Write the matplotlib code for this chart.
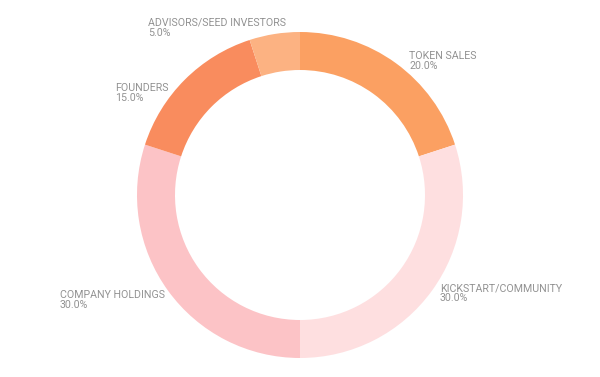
import matplotlib.pyplot as plt
import numpy as np

labels = ['TOKEN SALES', 'KICKSTART/COMMUNITY', 'COMPANY HOLDINGS', 'FOUNDERS',
          'ADVISORS/SEED INVESTORS']
shares = [20.0, 30.0, 30.0, 15.0, 5.0]
colors = ['#fba062', '#fedfe0', '#fcc3c6', '#f98c5e', '#fcb282']

# label anchor (top corner of text block) in pixels from top-left, plus alignment
label_pos = [(409, 51, 'left'), (440, 283, 'left'), (60, 290, 'left'),
             (115, 83, 'left'), (148, 18, 'left')]

plt.rcParams.update({"font.family": ["Roboto", "DejaVu Sans"]})

W, H = 600, 377
fig = plt.figure(figsize=(W / 100, H / 100), dpi=100)
ax = fig.add_axes([0, 0, 1, 1])

cx, cy, r = 300, H - 195, 163
ax.pie(shares, colors=colors, startangle=90, counterclock=False,
       center=(cx, cy), radius=r, frame=True,
       wedgeprops=dict(width=38, linewidth=0))
ax.set_xlim(0, W)
ax.set_ylim(0, H)
ax.set_aspect('equal')
ax.axis('off')

for lab, val, (x, y, ha) in zip(labels, shares, label_pos):
    ax.text(x, H - y, f'{lab}\n{val:.1f}%', ha=ha, va='top', ma='left',
            fontsize=7.7, color='#929292', linespacing=0.95)

fig.savefig('out.png', dpi=100)
